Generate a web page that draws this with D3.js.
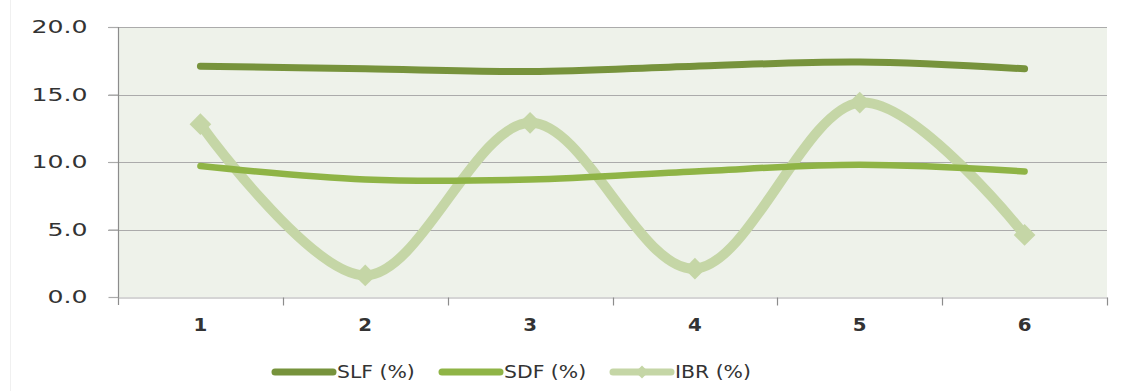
<!DOCTYPE html>
<html>
<head>
<meta charset="utf-8">
<script src="https://cdn.jsdelivr.net/npm/d3@7"></script>
<style>
  html, body { margin: 0; padding: 0; background: #ffffff; }
  svg { display: block; }
  text { font-family: "DejaVu Sans", Verdana, sans-serif; fill: #333333; }
</style>
</head>
<body>
<svg id="chart" width="1132" height="391"></svg>
<script>
// Periods on the category axis
const categories = ["1", "2", "3", "4", "5", "6"];
// Rates per period, in percent
const slf = [17.1, 16.9, 16.7, 17.1, 17.4, 16.9];
const sdf = [9.7, 8.7, 8.7, 9.3, 9.8, 9.3];
const ibr = [12.8, 1.6, 12.9, 2.1, 14.4, 4.6];
// Value axis ticks
const yTicks = [0, 5, 10, 15, 20];

const seriesNames = ["SLF (%)", "SDF (%)", "IBR (%)"];

const svg = d3.select("#chart");
const plot = { left: 118, right: 1107, top: 27, bottom: 297 };

const x = d3.scaleBand().domain(categories).range([plot.left, plot.right]);
const y = d3.scaleLinear().domain([0, 20]).range([plot.bottom, plot.top]);

// wide lettering for the axis and legend labels
const widen = (sel, k) => sel.each(function () {
  const t = d3.select(this);
  const tx = +t.attr("x") || 0;
  t.attr("x", tx / k).attr("transform", `scale(${k},1)`);
});

// plot background
svg.append("rect")
  .attr("x", plot.left).attr("y", plot.top)
  .attr("width", plot.right - plot.left).attr("height", plot.bottom - plot.top)
  .attr("fill", "#eef2ea");

// faint card edge on the left
svg.append("line")
  .attr("x1", 10.5).attr("x2", 10.5).attr("y1", 0).attr("y2", 391)
  .attr("stroke", "#f0f0f0").attr("stroke-width", 1);

// horizontal gridlines
svg.append("g")
  .selectAll("line")
  .data(yTicks.filter(d => d > 0))
  .join("line")
  .attr("x1", plot.left - 10).attr("x2", plot.right)
  .attr("y1", d => Math.round(y(d)) + 0.5).attr("y2", d => Math.round(y(d)) + 0.5)
  .attr("stroke", "#ababab").attr("stroke-width", 1.2);

// y axis
const yAxis = svg.append("g")
  .attr("transform", `translate(${plot.left + 0.5},0)`)
  .call(d3.axisLeft(y).tickValues(yTicks).tickFormat(d3.format(".1f")).tickSize(10).tickPadding(21));
yAxis.select(".domain").remove();
yAxis.append("line")
  .attr("x1", 0).attr("x2", 0).attr("y1", plot.top).attr("y2", plot.bottom + 8)
  .attr("stroke", "#8c8c8c").attr("stroke-width", 1.2);
yAxis.selectAll(".tick line").attr("stroke", "#ababab").attr("stroke-width", 1.2);
yAxis.selectAll(".tick text")
  .attr("font-size", 18).attr("font-family", "DejaVu Sans, Verdana, sans-serif")
  .attr("fill", "#3a3a3a")
  .call(widen, 1.4);

// x axis
const xAxis = svg.append("g")
  .attr("transform", `translate(0,${plot.bottom + 0.5})`)
  .call(d3.axisBottom(x).tickSizeInner(0).tickSizeOuter(0).tickPadding(21));
xAxis.select(".domain").attr("stroke", "#ababab").attr("stroke-width", 1.2);
xAxis.selectAll(".tick text")
  .attr("font-size", 18).attr("font-weight", "bold")
  .attr("font-family", "DejaVu Sans, Verdana, sans-serif").attr("fill", "#333")
  .each(function () {
    const t = d3.select(this);
    t.attr("transform", "scale(1.1,1)");
  });
// tick marks between categories
const bounds = categories.map(c => x(c)).concat([x.range()[1]]).slice(1);
xAxis.append("g").selectAll("line")
  .data(bounds)
  .join("line")
  .attr("x1", d => Math.round(d) + 0.5).attr("x2", d => Math.round(d) + 0.5)
  .attr("y1", 0).attr("y2", 8)
  .attr("stroke", "#8c8c8c").attr("stroke-width", 1.2);

const cx = i => x(categories[i]) + x.bandwidth() / 2;
const line = d3.line()
  .x((d, i) => cx(i))
  .y(d => y(d))
  .curve(d3.curveCardinal.tension(0));

const series = [
  { name: seriesNames[0], values: slf, color: "#77933c", width: 7, marker: false },
  { name: seriesNames[1], values: sdf, color: "#8fb446", width: 6.5, marker: false },
  { name: seriesNames[2], values: ibr, color: "#c5d6a6", width: 10, marker: true }
];

// lighter series first so the darker lines sit on top
const drawOrder = [2, 0, 1];
drawOrder.forEach(k => {
  const s = series[k];
  svg.append("path")
    .datum(s.values)
    .attr("fill", "none")
    .attr("stroke", s.color)
    .attr("stroke-width", s.width)
    .attr("stroke-linecap", "round")
    .attr("stroke-linejoin", "round")
    .attr("d", line);
  if (s.marker) {
    svg.append("g").selectAll("path")
      .data(s.values)
      .join("path")
      .attr("transform", (d, i) => `translate(${cx(i)},${y(d)})`)
      .attr("d", d3.symbol().type(d3.symbolDiamond2).size(300))
      .attr("fill", s.color);
  }
});

// legend
const legendX = [275, 442, 613];
const legend = svg.append("g");
series.forEach((s, i) => {
  const g = legend.append("g").attr("transform", `translate(${legendX[i]},372)`);
  g.append("line")
    .attr("x1", 0).attr("x2", 58).attr("y1", 0).attr("y2", 0)
    .attr("stroke", s.color).attr("stroke-width", 7).attr("stroke-linecap", "round");
  if (s.marker) {
    g.append("path")
      .attr("transform", "translate(29,0)")
      .attr("d", d3.symbol().type(d3.symbolDiamond2).size(110))
      .attr("fill", s.color);
  }
  g.append("text")
    .attr("x", 62).attr("y", 0).attr("dy", "0.36em")
    .attr("font-size", 17)
    .attr("fill", "#333")
    .text(s.name)
    .call(widen, 1.2);
});
</script>
</body>
</html>
